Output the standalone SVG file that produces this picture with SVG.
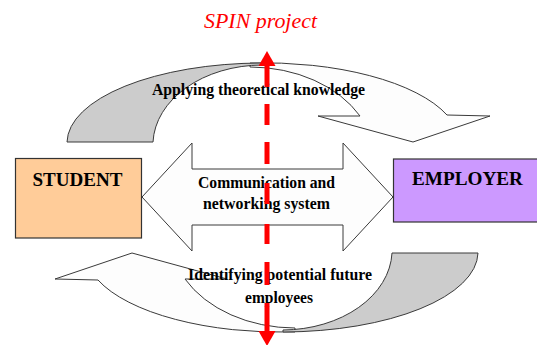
<svg xmlns="http://www.w3.org/2000/svg" width="537" height="345" viewBox="0 0 537 345">
<defs>
<style>
.sh{stroke:#3a3a3a;stroke-width:1;stroke-linejoin:miter}
.front{fill:#fdfdfd}
.back{fill:#cccccc}
.lbl{font-family:"Liberation Serif","Times New Roman",serif;font-weight:bold;fill:#000;text-anchor:middle}
.box{stroke:#333;stroke-width:1.2}
.red{stroke:#ff0000;stroke-width:5;fill:none}
</style>
<g id="curved-arrow">
<path class="sh front" d="M250,63 A196,80 0 0 1 447,115 L490,116 L413,142 L318,116 L360,116 A125,93 0 0 0 250,67 Z"/>
<path class="sh back" d="M67,142 A196,80 0 0 1 262,63 L262,65 A110,80 0 0 0 153,142 Z"/>
</g>
</defs>
<rect width="537" height="345" fill="#fff"/>

<g id="applying-arrow">
<use href="#curved-arrow"/>
<text class="lbl" x="258.5" y="95" font-size="16" textLength="213" lengthAdjust="spacingAndGlyphs">Applying theoretical knowledge</text>
</g>

<g id="identifying-arrow">
<use href="#curved-arrow" transform="rotate(180 272.5 197.5)"/>
<text class="lbl" x="280" y="280" font-size="16" textLength="184" lengthAdjust="spacingAndGlyphs">Identifying potential future</text>
<text class="lbl" x="279" y="303" font-size="16" textLength="68" lengthAdjust="spacingAndGlyphs">employees</text>
</g>

<g id="communication-arrow">
<path class="sh front" d="M142,197 L192,143 L192,169 L343,169 L343,143 L393,197 L343,251 L343,225 L192,225 L192,251 Z"/>
<text class="lbl" x="266.5" y="188" font-size="16" textLength="137" lengthAdjust="spacingAndGlyphs">Communication and</text>
<text class="lbl" x="266.5" y="209" font-size="16" textLength="127" lengthAdjust="spacingAndGlyphs">networking system</text>
</g>

<g id="student">
<rect class="box" x="15.5" y="158.5" width="126" height="79.5" fill="#ffcc99"/>
<text class="lbl" x="77.5" y="186" font-size="19" textLength="90" lengthAdjust="spacingAndGlyphs">STUDENT</text>
</g>

<g id="employer">
<rect class="box" x="393.5" y="159" width="150" height="63" fill="#cc99ff"/>
<text class="lbl" x="467.5" y="185" font-size="19" textLength="111" lengthAdjust="spacingAndGlyphs">EMPLOYER</text>
</g>

<g id="connectors">
<path class="red" d="M267,64 V87 M267,104 V125 M267,142 V164 M267,183 V204 M267,224 V244 M267,262 V285 M267,303 V332"/>
<polygon points="267,51 258.5,66 275.5,66" fill="#ff0000"/>
<polygon points="267,346 258.5,331 275.5,331" fill="#ff0000"/>
</g>

<g id="spin-project">
<text x="260.5" y="28" font-family="'Liberation Serif','Times New Roman',serif" font-style="italic" font-size="21" fill="#ff0000" text-anchor="middle" textLength="113" lengthAdjust="spacingAndGlyphs">SPIN project</text>
</g>
</svg>
